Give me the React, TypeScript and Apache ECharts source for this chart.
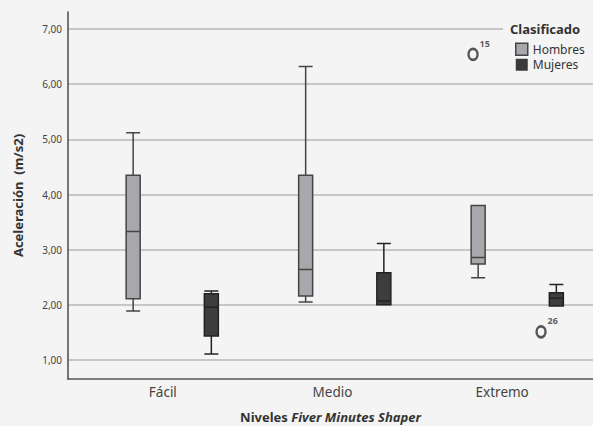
import React, { useEffect, useRef } from "react";
import * as echarts from "echarts";

const categories = ["Fácil", "Medio", "Extremo"];
// [min, Q1, median, Q3, max]
const hombres = [
  [1.89, 2.11, 3.33, 4.35, 5.12],
  [2.05, 2.16, 2.64, 4.35, 6.32],
  [2.49, 2.74, 2.86, 3.8, 3.8],
];
const mujeres = [
  [1.11, 1.435, 1.955, 2.2, 2.25],
  [2.0, 2.0, 2.07, 2.58, 3.11],
  [1.98, 1.98, 2.12, 2.22, 2.37],
];
const outlierCategories = ["Extremo", "Extremo"];
const outlierValues = [6.54, 1.51];
const outlierLabels = ["15", "26"];
const outlierGroups = ["Hombres", "Mujeres"];

const FONT = "Noto Sans";
const BG = "#f4f4f4";
const groupOffset: Record<string, number> = { Hombres: -44.2, Mujeres: 23.8 };

export default function App() {
  const ref = useRef<HTMLDivElement>(null);
  useEffect(() => {
    if (!ref.current) return;
    const chart = echarts.init(ref.current, undefined, { renderer: "svg" });
    const ellipse = "path://M1,0 A1,1 0 1,1 1,2 A1,1 0 1,1 1,0 Z";
    const option: any = {
      animation: false,
      backgroundColor: BG,
      textStyle: { fontFamily: FONT },
      title: {
        text: "Clasificado",
        left: 503,
        top: 19,
        padding: [3, 14, 3, 7],
        backgroundColor: BG,
        textStyle: { fontFamily: FONT, fontSize: 13, fontWeight: "bold", color: "#333" },
      },
      legend: {
        orient: "vertical",
        left: 515,
        top: 42.5,
        padding: 0,
        itemWidth: 12,
        itemHeight: 12,
        itemGap: 2,
        textStyle: { fontFamily: FONT, fontSize: 12, lineHeight: 13.5, color: "#333" },
        data: [
          { name: "Hombres", icon: "rect", itemStyle: { color: "#a7a8ab", borderColor: "#444", borderWidth: 1.5 } },
          { name: "Mujeres", icon: "rect", itemStyle: { color: "#3b3b3b", borderColor: "#3b3b3b", borderWidth: 0 } },
        ],
      },
      grid: [
        { left: 68, right: 0, top: 29, bottom: 66, outerBoundsMode: "none" },
        { left: 68, right: 0, top: 12, bottom: 47, outerBoundsMode: "none" },
        { left: 86, right: -10.5, top: 29, bottom: 66, outerBoundsMode: "none" },
        { left: 78, right: 6, top: 12, bottom: 47, outerBoundsMode: "none" },
      ],
      xAxis: [
        { gridIndex: 0, type: "category", data: categories, show: false },
        {
          gridIndex: 1,
          type: "category",
          data: categories,
          axisLine: { show: true, lineStyle: { color: "#555", width: 1.6 } },
          axisTick: { show: false },
          axisLabel: { show: false },
          splitLine: { show: false },
          name: "{a|Niveles }{b|Fiver Minutes Shaper}",
          nameLocation: "middle",
          nameGap: 31,
          nameTextStyle: {
            rich: {
              a: { fontFamily: FONT, fontSize: 13, fontWeight: "bold", color: "#333" },
              b: { fontFamily: FONT, fontSize: 13, fontWeight: "bold", fontStyle: "italic", color: "#333" },
            },
          },
        },
        { gridIndex: 2, type: "category", data: categories, show: false },
        {
          gridIndex: 3,
          type: "category",
          data: categories,
          axisLine: { show: false },
          axisTick: { show: false },
          splitLine: { show: false },
          axisLabel: { fontFamily: FONT, fontSize: 13.5, color: "#444", margin: 6 },
        },
      ],
      yAxis: [
        {
          gridIndex: 0,
          type: "value",
          min: 1,
          max: 7,
          interval: 1,
          axisLine: { show: false },
          axisTick: { show: false },
          axisLabel: {
            fontFamily: FONT,
            fontSize: 10,
            color: "#444",
            margin: 6,
            formatter: (v: number) => v.toFixed(2).replace(".", ","),
          },
          splitLine: { show: true, lineStyle: { color: "#b8b8b8", width: 1.5 } },
        },
        {
          gridIndex: 1,
          type: "value",
          min: 0,
          max: 1,
          axisLine: { show: true, lineStyle: { color: "#555", width: 1.6 } },
          axisTick: { show: false },
          axisLabel: { show: false },
          splitLine: { show: false },
          name: "Aceleración  (m/s2)",
          nameLocation: "middle",
          nameGap: 44,
          nameTextStyle: { fontFamily: FONT, fontSize: 13, fontWeight: "bold", color: "#333" },
        },
        { gridIndex: 2, type: "value", min: 1, max: 7, show: false },
        { gridIndex: 3, type: "value", min: 0, max: 1, show: false },
      ],
      series: [
        {
          name: "Hombres",
          type: "boxplot",
          xAxisIndex: 2,
          yAxisIndex: 2,
          data: hombres,
          boxWidth: [14, 14],
          itemStyle: { color: "#a7a8ab", borderColor: "#444", borderWidth: 1.5 },
        },
        {
          name: "Mujeres",
          type: "boxplot",
          xAxisIndex: 2,
          yAxisIndex: 2,
          data: mujeres,
          boxWidth: [14, 14],
          itemStyle: { color: "#3d3d3d", borderColor: "#222", borderWidth: 1.5 },
        },
        {
          name: "Atípicos",
          type: "scatter",
          xAxisIndex: 2,
          yAxisIndex: 2,
          symbol: ellipse,
          symbolSize: [9, 11],
          itemStyle: { color: "rgba(0,0,0,0)", borderColor: "#2d2d2d", borderWidth: 2.6 },
          data: outlierValues.map((v, i) => ({
            value: [outlierCategories[i], v],
            symbolOffset: [groupOffset[outlierGroups[i]], 0],
            label: {
              show: true,
              formatter: outlierLabels[i],
              position: "inside",
              align: "left",
              verticalAlign: "middle",
              offset: [6.5, -11],
              fontFamily: FONT,
              fontSize: 9,
              fontWeight: "bold",
              color: "#333",
            },
          })),
        },
      ],
    };
    chart.setOption(option);
    return () => chart.dispose();
  }, []);
  return (
    <div
      ref={ref}
      style={{ position: "fixed", left: 0, top: 0, width: 593, height: 426 }}
    />
  );
}
